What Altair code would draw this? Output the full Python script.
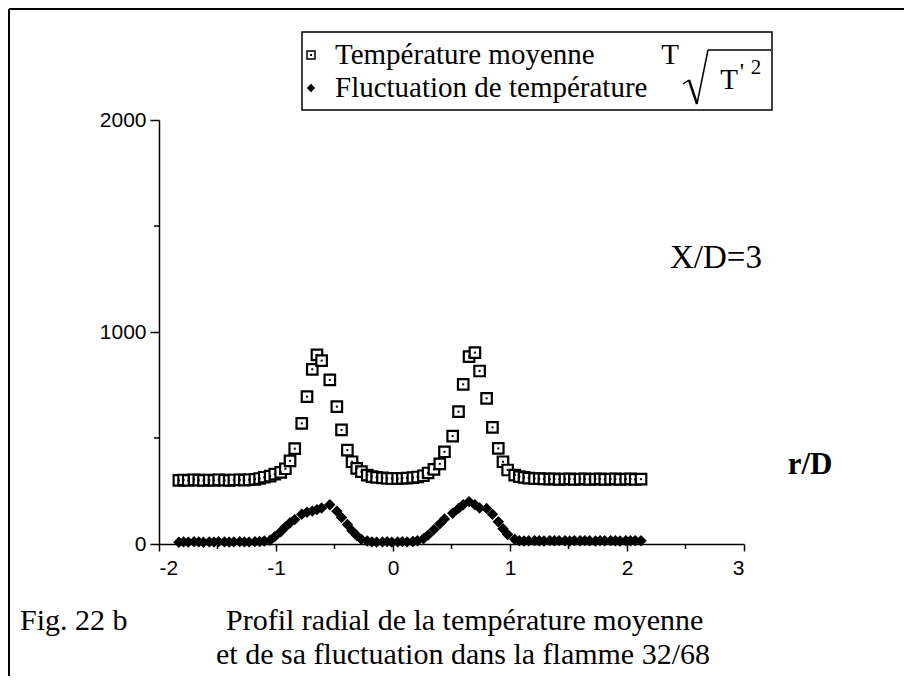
import altair as alt
import pandas as pd

# ---------------- data ----------------
r_D = [-1.83, -1.79, -1.75, -1.70, -1.66, -1.62, -1.57, -1.53, -1.49, -1.44,
       -1.40, -1.36, -1.31, -1.27, -1.23, -1.18, -1.14, -1.10,
       -1.05, -1.01, -0.96, -0.92, -0.88, -0.84, -0.78, -0.735, -0.69, -0.65,
       -0.61, -0.54, -0.48, -0.44, -0.39, -0.35, -0.31, -0.27, -0.22,
       -0.18, -0.14, -0.09, -0.05, -0.01, 0.04, 0.08, 0.12, 0.17, 0.21,
       0.26, 0.30, 0.35, 0.40, 0.44, 0.51, 0.56, 0.60, 0.65, 0.70,
       0.74, 0.80, 0.85, 0.90, 0.94, 0.98, 1.04, 1.08,
       1.12, 1.16, 1.21, 1.25, 1.29, 1.34, 1.38, 1.42, 1.47, 1.51,
       1.55, 1.60, 1.64, 1.68, 1.73, 1.77, 1.81, 1.86, 1.90, 1.94,
       1.99, 2.03, 2.07, 2.12]

T_moyenne = [300, 302, 300, 303, 301, 300, 302, 300, 303, 301,
             300, 302, 303, 301, 303, 305, 309, 315,
             320, 330, 338, 355, 392, 450, 569, 695, 824, 892,
             865, 774, 648, 538, 443, 388, 357, 341, 325,
             318, 314, 312, 310, 309, 309, 310, 311, 313, 316,
             322, 335, 352, 378, 435, 509, 624, 753, 884, 903,
             816, 687, 550, 451, 388, 349, 325, 318,
             314, 311, 309, 308, 307, 306, 307, 305, 306, 307,
             305, 306, 307, 305, 306, 307, 305, 306, 307, 305,
             306, 307, 305, 306]

T_fluct = [8, 10, 9, 11, 10, 8, 10, 9, 11, 10,
           9, 10, 11, 10, 9, 11, 12, 14,
           18, 35, 58, 80, 100, 115, 140, 150, 155, 162,
           170, 185, 155, 125, 92, 63, 40, 22, 14,
           10, 9, 10, 11, 9, 10, 11, 10, 12, 15,
           25, 42, 68, 95, 118, 145, 168, 185, 200, 185,
           170, 168, 140, 105, 72, 45, 22, 15,
           14, 15, 16, 15, 14, 16, 15, 16, 15, 14,
           16, 15, 16, 15, 14, 16, 15, 16, 15, 14,
           16, 15, 16, 15]

x_major = [-2, -1, 0, 1, 2, 3]
x_minor = [-1.5, -0.5, 0.5, 1.5, 2.5]
y_major = [0, 1000, 2000]
y_minor = [500, 1500]

legend_labels = ["Température moyenne", "Fluctuation de température"]
caption_fig = ["Fig. 22 b"]
caption_lines = ["Profil radial de la température moyenne",
                 "et de sa fluctuation dans la flamme 32/68"]

# ---------------- layout ----------------
W, H = 585, 424
X0, Y0 = 159, 120          # page position of plot origin


def px(x):
    return x - X0


def py(y):
    return y - Y0


SERIF = "Liberation Serif"
SANS = "Liberation Sans"

xs = alt.Scale(domain=[-2, 3], nice=False, zero=False)
ys = alt.Scale(domain=[0, 2000], nice=False, zero=False)

axis_common = dict(
    domainColor="black", domainWidth=1.5, tickColor="black", tickWidth=1.5,
    labelFont=SANS, labelFontSize=21, labelColor="black", grid=False,
    labelExpr="toString(datum.value)", title=None,
)
AX = alt.Axis(values=x_major, tickSize=7, labelPadding=6, **axis_common)
AY = alt.Axis(values=y_major, tickSize=9, labelPadding=4, **axis_common)

df = pd.DataFrame({"r": r_D, "T": T_moyenne, "F": T_fluct})
base = alt.Chart(df)

diamonds = base.mark_point(shape="diamond", filled=True, color="black",
                           size=130, opacity=1).encode(
    x=alt.X("r:Q", scale=xs, axis=AX),
    y=alt.Y("F:Q", scale=ys, axis=AY),
)
squares = base.mark_point(shape="square", filled=True, fill="white",
                          stroke="black", strokeWidth=2.2, size=110,
                          opacity=1).encode(
    x=alt.X("r:Q", scale=xs, axis=AX),
    y=alt.Y("T:Q", scale=ys, axis=AY),
)
dots = base.mark_point(shape="square", filled=True, color="black",
                       size=4, opacity=1).encode(
    x=alt.X("r:Q", scale=xs, axis=AX),
    y=alt.Y("T:Q", scale=ys, axis=AY),
)

minor_x = alt.Chart(pd.DataFrame({"m": x_minor})).mark_rule(
    color="black", strokeWidth=1.5).encode(
    x=alt.X("m:Q", scale=xs, axis=AX),
    y=alt.value(H), y2=alt.value(H + 5))
minor_y = alt.Chart(pd.DataFrame({"n": y_minor})).mark_rule(
    color="black", strokeWidth=1.5).encode(
    y=alt.Y("n:Q", scale=ys, axis=AY),
    x=alt.value(-5), x2=alt.value(0))

one = pd.DataFrame({"a": [0]})


def seg(x1, y1, x2, y2, w=1.5):
    return alt.Chart(one).mark_rule(color="black", strokeWidth=w).encode(
        x=alt.value(px(x1)), x2=alt.value(px(x2)),
        y=alt.value(py(y1)), y2=alt.value(py(y2)))


def label(text, x, y, size=29, align="left", weight="normal",
          font=SERIF):
    return alt.Chart(pd.DataFrame({"t": [text]})).mark_text(
        font=font, fontSize=size, align=align, baseline="middle",
        fontWeight=weight, color="black").encode(
        x=alt.value(px(x)), y=alt.value(py(y)), text="t:N")


# page frame (top and left lines of the scanned page)
frame = seg(9, 9, 904, 9, 2) + seg(9, 9, 9, 676, 2)

# legend box
LB = dict(x1=302, x2=772, y1=32, y2=110)
legend_box = alt.Chart(one).mark_rect(fill="white", stroke="black",
                                      strokeWidth=1.5).encode(
    x=alt.value(px(LB["x1"])), x2=alt.value(px(LB["x2"])),
    y=alt.value(py(LB["y1"])), y2=alt.value(py(LB["y2"])))

leg_sq = alt.Chart(one).mark_point(shape="square", filled=True,
                                   fill="white", stroke="black",
                                   strokeWidth=1.5, size=64,
                                   opacity=1).encode(
    x=alt.value(px(311)), y=alt.value(py(55)))
leg_dot = alt.Chart(one).mark_point(shape="square", filled=True,
                                    color="black", size=4,
                                    opacity=1).encode(
    x=alt.value(px(311)), y=alt.value(py(55)))
leg_di = alt.Chart(one).mark_point(shape="diamond", filled=True,
                                   color="black", size=70,
                                   opacity=1).encode(
    x=alt.value(px(311)), y=alt.value(py(88)))

leg_t1 = label(legend_labels[0], 335, 55)
leg_T = label("T", 670, 55, align="center")
leg_t2 = label(legend_labels[1], 335, 88)

# square-root sign over T'^2
radical = (seg(683, 84, 689, 80, 1.5) + seg(689, 80, 697, 104, 2.4)
           + seg(697, 104, 708, 50, 1.5) + seg(708, 50, 771, 50, 1.5))
rad_T = label("T", 729, 80, align="center")
rad_p = label("'", 742, 72, size=24, align="center")
rad_2 = label("2", 756, 68, size=21, align="center")

xd = label("X/D=3", 716, 258, size=33, align="center")
rd = label("r/D", 810, 465, size=31, align="center", weight="bold")

cap1 = label(caption_fig[0], 20, 621, size=30)
cap2 = label(caption_lines[0], 226, 621, size=30)
cap3 = label(caption_lines[1], 216, 655, size=30)

chart = alt.layer(
    frame, diamonds, squares, dots, minor_x, minor_y,
    legend_box, leg_sq, leg_dot, leg_di, leg_t1, leg_T, leg_t2,
    radical, rad_T, rad_p, rad_2, xd, rd, cap1, cap2, cap3,
).properties(
    width=W, height=H,
    autosize=alt.AutoSizeParams(type="none"),
    padding={"left": X0 - 8, "top": Y0 - 8,
             "right": 896 - (X0 - 8) - W, "bottom": 670 - (Y0 - 8) - H},
    background="white",
).configure_view(stroke=None)

chart.save("out.html", embed_options={"renderer": "svg", "actions": False})
